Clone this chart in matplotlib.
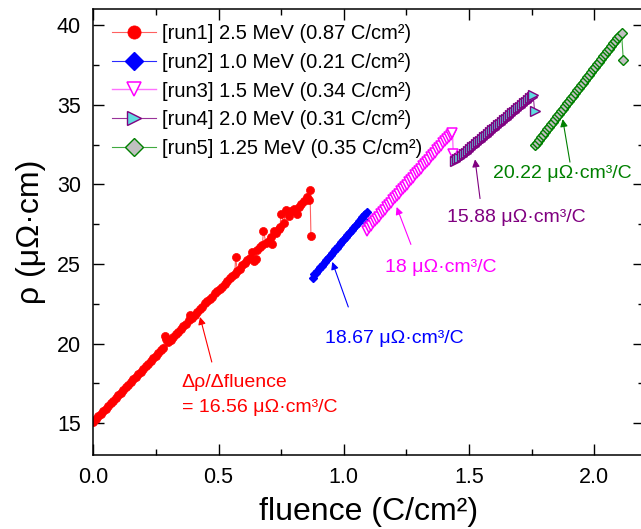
import matplotlib
matplotlib.use("Agg")
import matplotlib.pyplot as plt
from matplotlib.lines import Line2D
from matplotlib.ticker import MultipleLocator, FormatStrFormatter

plt.rcParams['font.family'] = ['Liberation Sans', 'DejaVu Sans']

# run1: 2.5 MeV
f1 = [0.000, 0.010, 0.020, 0.030, 0.040, 0.050, 0.060, 0.070, 0.080, 0.090,
      0.100, 0.110, 0.120, 0.130, 0.140, 0.150, 0.160, 0.170, 0.180, 0.190,
      0.200, 0.210, 0.220, 0.230, 0.240, 0.250, 0.260, 0.270, 0.280, 0.285,
      0.290, 0.300, 0.310, 0.320, 0.330, 0.340, 0.350, 0.360, 0.370, 0.380,
      0.386, 0.395, 0.405, 0.415, 0.425, 0.435, 0.445, 0.455, 0.465, 0.475,
      0.485, 0.495, 0.505, 0.515, 0.525, 0.535, 0.545, 0.555, 0.565, 0.568,
      0.575, 0.585, 0.595, 0.605, 0.615, 0.625, 0.635, 0.640, 0.648, 0.655,
      0.665, 0.675, 0.679, 0.690, 0.700, 0.710, 0.715, 0.720, 0.730, 0.740,
      0.745, 0.750, 0.760, 0.770, 0.780, 0.790, 0.800, 0.812, 0.820, 0.830,
      0.840, 0.852, 0.860, 0.865, 0.869]
r1 = [15.10, 15.25, 15.42, 15.58, 15.75, 15.92, 16.08, 16.25, 16.42, 16.58,
      16.75, 16.92, 17.08, 17.25, 17.42, 17.58, 17.75, 17.92, 18.08, 18.24,
      18.40, 18.57, 18.74, 18.90, 19.07, 19.24, 19.40, 19.60, 19.72, 20.45,
      20.30, 20.08, 20.25, 20.42, 20.58, 20.75, 20.92, 21.10, 21.25, 21.45,
      21.77, 21.62, 21.80, 21.98, 22.15, 22.30, 22.55, 22.65, 22.82, 22.95,
      23.15, 23.30, 23.40, 23.55, 23.75, 23.92, 24.10, 24.25, 24.35, 25.45,
      24.55, 24.70, 24.95, 25.05, 25.25, 25.40, 25.75, 25.20, 25.30, 25.90,
      26.05, 26.20, 27.05, 26.30, 26.45, 26.70, 26.25, 27.10, 26.95, 27.20,
      27.35, 28.15, 27.60, 28.40, 28.00, 28.30, 28.45, 28.15, 28.60, 28.80,
      28.95, 29.20, 29.05, 29.65, 26.75]

# run2: 1.0 MeV
f2 = [0.876, 0.882, 0.888, 0.894, 0.900, 0.906, 0.912, 0.918, 0.924, 0.930,
      0.936, 0.942, 0.948, 0.954, 0.960, 0.966, 0.972, 0.978, 0.984, 0.990,
      0.996, 1.002, 1.008, 1.014, 1.020, 1.026, 1.032, 1.038, 1.044, 1.050,
      1.056, 1.062, 1.068, 1.074, 1.080, 1.086, 1.091, 1.092]
r2 = [24.12, 24.38, 24.45, 24.56, 24.68, 24.78, 24.90, 25.02, 25.12, 25.24,
      25.35, 25.46, 25.58, 25.68, 25.80, 25.92, 26.02, 26.14, 26.25, 26.36,
      26.48, 26.58, 26.70, 26.82, 26.92, 27.04, 27.15, 27.26, 27.38, 27.48,
      27.60, 27.72, 27.82, 27.94, 28.05, 28.16, 28.27, 27.58]

# run3: 1.5 MeV
f3 = [1.092, 1.100, 1.108, 1.116, 1.124, 1.132, 1.140, 1.148, 1.156, 1.164,
      1.172, 1.180, 1.188, 1.196, 1.204, 1.212, 1.220, 1.228, 1.236, 1.244,
      1.252, 1.260, 1.268, 1.276, 1.284, 1.292, 1.300, 1.308, 1.316, 1.324,
      1.332, 1.340, 1.348, 1.356, 1.364, 1.372, 1.380, 1.388, 1.396, 1.404,
      1.412, 1.420, 1.428, 1.434, 1.437]
r3 = [27.10, 27.26, 27.40, 27.55, 27.68, 27.84, 27.98, 28.13, 28.26, 28.42,
      28.55, 28.70, 28.84, 28.99, 29.12, 29.27, 29.41, 29.56, 29.70, 29.84,
      29.99, 30.13, 30.27, 30.42, 30.56, 30.70, 30.85, 30.99, 31.13, 31.28,
      31.42, 31.56, 31.71, 31.85, 31.99, 32.14, 32.28, 32.42, 32.57, 32.71,
      32.85, 33.00, 33.13, 33.24, 31.94]

# run4: 2.0 MeV
f4 = [1.446, 1.454, 1.462, 1.470, 1.478, 1.486, 1.494, 1.502, 1.510, 1.518,
      1.526, 1.534, 1.542, 1.550, 1.558, 1.566, 1.574, 1.582, 1.590, 1.598,
      1.606, 1.614, 1.622, 1.630, 1.638, 1.646, 1.654, 1.662, 1.670, 1.678,
      1.686, 1.694, 1.702, 1.710, 1.718, 1.726, 1.734, 1.742, 1.750, 1.756,
      1.762]
r4 = [31.45, 31.58, 31.67, 31.78, 31.88, 32.00, 32.10, 32.20, 32.32, 32.42,
      32.53, 32.64, 32.75, 32.85, 32.96, 33.07, 33.18, 33.28, 33.39, 33.50,
      33.60, 33.71, 33.82, 33.92, 34.03, 34.14, 34.24, 34.35, 34.46, 34.56,
      34.67, 34.78, 34.88, 34.99, 35.10, 35.20, 35.31, 35.42, 35.52, 35.60,
      34.62]

# run5: 1.25 MeV
f5 = [1.764, 1.772, 1.780, 1.788, 1.796, 1.804, 1.812, 1.820, 1.828, 1.836,
      1.844, 1.852, 1.860, 1.868, 1.876, 1.884, 1.892, 1.900, 1.908, 1.916,
      1.924, 1.932, 1.940, 1.948, 1.956, 1.964, 1.972, 1.980, 1.988, 1.996,
      2.004, 2.012, 2.020, 2.028, 2.036, 2.044, 2.052, 2.060, 2.068, 2.076,
      2.084, 2.092, 2.100, 2.109, 2.116]
r5 = [32.47, 32.63, 32.80, 32.96, 33.12, 33.29, 33.45, 33.62, 33.78, 33.94,
      34.11, 34.27, 34.43, 34.60, 34.76, 34.93, 35.09, 35.25, 35.42, 35.58,
      35.74, 35.91, 36.07, 36.24, 36.40, 36.56, 36.73, 36.89, 37.05, 37.22,
      37.38, 37.55, 37.71, 37.87, 38.04, 38.20, 38.36, 38.53, 38.69, 38.86,
      39.02, 39.18, 39.35, 39.53, 37.81]

labels = ['[run1] 2.5 MeV (0.87 C/cm²)',
          '[run2] 1.0 MeV (0.21 C/cm²)',
          '[run3] 1.5 MeV (0.34 C/cm²)',
          '[run4] 2.0 MeV (0.31 C/cm²)',
          '[run5] 1.25 MeV (0.35 C/cm²)']

slopes = ['16.56', '18.67', '18', '15.88', '20.22']

styles = [
    dict(color='#ff6060', lw=0.8, marker='o', ms=5.8, mfc='red', mec='red', mew=0.5),
    dict(color='#2a2aff', lw=0.8, marker='D', ms=4.3, mfc='blue', mec='blue', mew=1.0),
    dict(color='#ff70ff', lw=1.0, marker='v', ms=7.0, mfc='white', mec='#ff00ff', mew=1.1),
    dict(color='#993399', lw=0.8, marker='>', ms=6.5, mfc='#60dde0', mec='#800080', mew=1.0),
    dict(color='#40aa40', lw=0.8, marker='D', ms=5.0, mfc='#c0c0c0', mec='#008000', mew=1.0),
]
legend_ms = [9.5, 9.5, 10.5, 10.5, 9.0]

fig = plt.figure(figsize=(6.41, 5.29), dpi=100)
ax = fig.add_axes([0.1456, 0.1399, 0.8596, 0.8425])

for f, r, st in zip([f1, f2, f3, f4, f5], [r1, r2, r3, r4, r5], styles):
    ax.plot(f, r, **st)

ax.set_xlim(0, 2.2)
ax.set_ylim(13, 41)
ax.xaxis.set_major_locator(MultipleLocator(0.5))
ax.xaxis.set_minor_locator(MultipleLocator(0.25))
ax.xaxis.set_major_formatter(FormatStrFormatter('%.1f'))
ax.yaxis.set_major_locator(MultipleLocator(5))
ax.yaxis.set_minor_locator(MultipleLocator(2.5))
ax.tick_params(which='both', direction='in', top=True, right=True, width=1.0)
ax.tick_params(which='major', length=8, labelsize=15.5, pad=9)
ax.tick_params(which='minor', length=4)
for s in ax.spines.values():
    s.set_linewidth(1.1)

ax.set_xlabel('fluence (C/cm²)', fontsize=23, labelpad=6)
ax.set_ylabel('ρ (μΩ·cm)', fontsize=23, labelpad=8)

# legend with enlarged markers
handles = []
for st, ms in zip(styles, legend_ms):
    h = dict(st)
    h['ms'] = ms
    handles.append(Line2D([], [], **h))
ax.legend(handles, labels, loc='upper left', bbox_to_anchor=(0.1743, 0.955),
          bbox_transform=fig.transFigure, frameon=False, fontsize=14.5,
          handlelength=2.2, handletextpad=0.3, labelspacing=0.49,
          borderpad=0, borderaxespad=0)

# slope annotations
arrow_props = lambda c: dict(arrowstyle='-|>', color=c, lw=0.8, mutation_scale=11,
                             shrinkA=0, shrinkB=0)

ax.annotate('', xy=(0.426, 21.67), xytext=(0.473, 18.84), arrowprops=arrow_props('red'))
ax.text(0.353, 17.58, 'Δρ/Δfluence', color='red', fontsize=14, va='center', ha='left')
ax.text(0.353, 16.0, '= ' + slopes[0] + ' μΩ·cm³/C', color='red', fontsize=14,
        va='center', ha='left')

ax.annotate('', xy=(0.954, 25.13), xytext=(1.018, 22.3), arrowprops=arrow_props('blue'))
ax.text(0.925, 20.31, slopes[1] + ' μΩ·cm³/C', color='blue', fontsize=14,
        va='center', ha='left')

ax.annotate('', xy=(1.211, 28.58), xytext=(1.268, 26.23), arrowprops=arrow_props('#ff00ff'))
ax.text(1.164, 24.81, slopes[2] + ' μΩ·cm³/C', color='#ff00ff', fontsize=14,
        va='center', ha='left')

ax.annotate('', xy=(1.524, 31.57), xytext=(1.544, 29.11), arrowprops=arrow_props('#800080'))
ax.text(1.411, 27.9, slopes[3] + ' μΩ·cm³/C', color='#800080', fontsize=14,
        va='center', ha='left')

ax.annotate('', xy=(1.874, 34.1), xytext=(1.903, 31.4), arrowprops=arrow_props('#008000'))
ax.text(1.594, 30.69, slopes[4] + ' μΩ·cm³/C', color='#008000', fontsize=14,
        va='center', ha='left')

fig.savefig('out.png', dpi=100)
